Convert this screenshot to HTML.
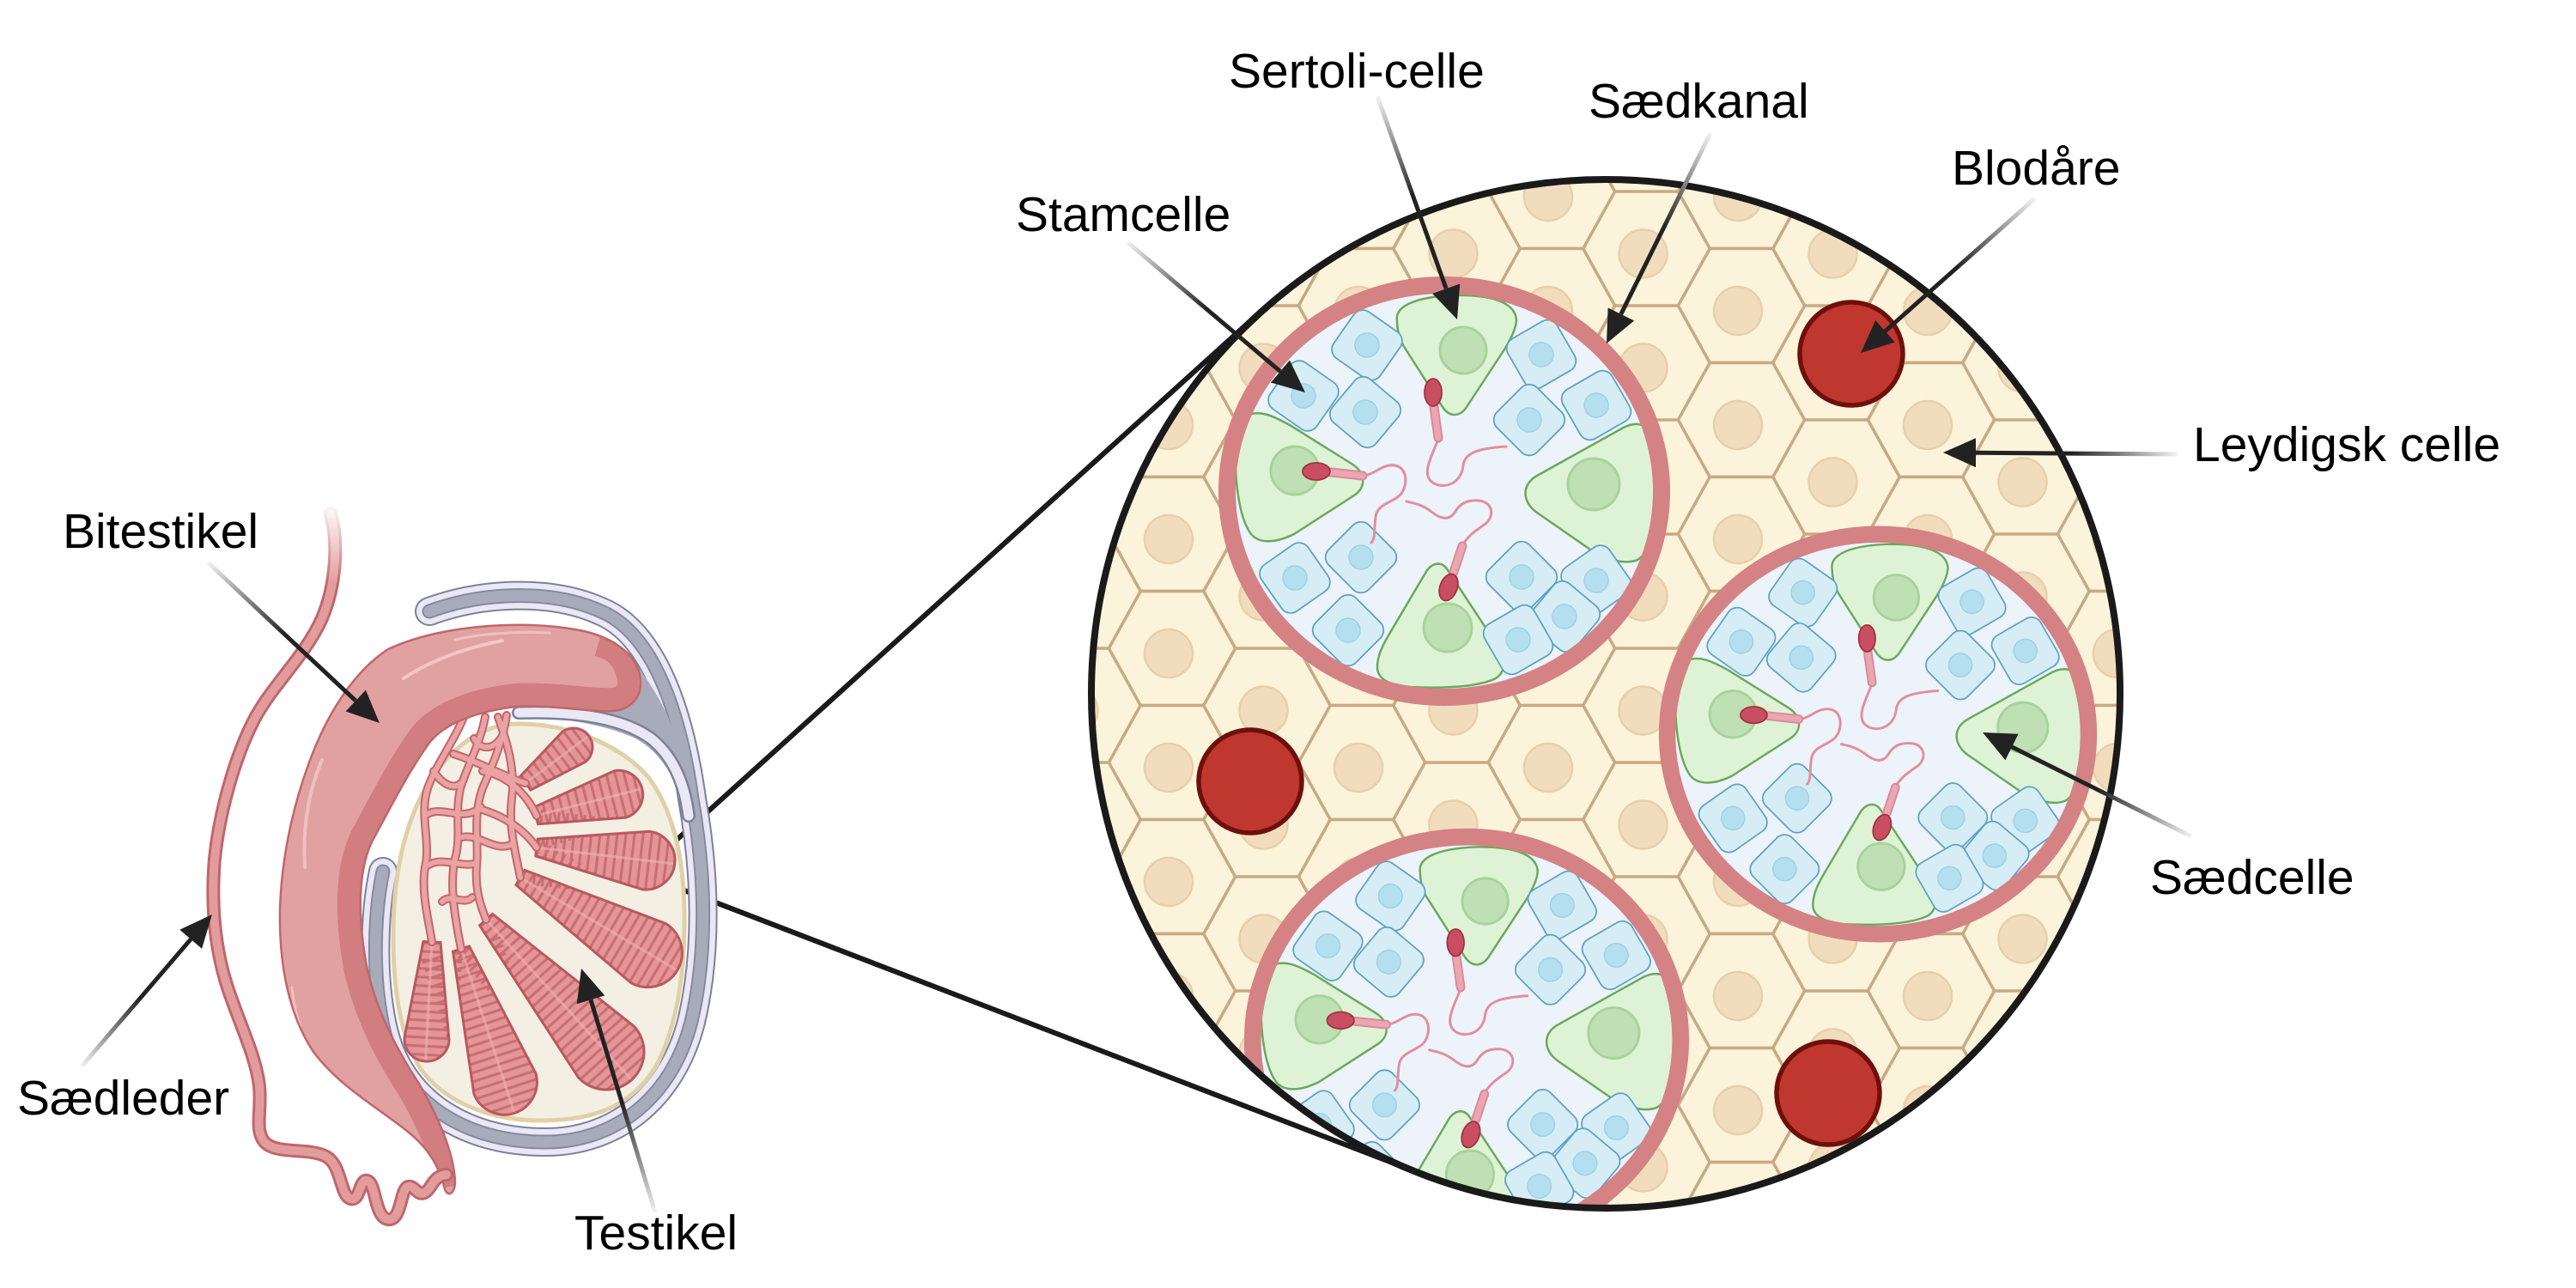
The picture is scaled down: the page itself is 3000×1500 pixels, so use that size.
<!DOCTYPE html>
<html><head><meta charset="utf-8"><style>html,body{margin:0;padding:0;background:#fff}svg{display:block}text{font-family:"Liberation Sans",Arial,sans-serif;font-size:57px;fill:#000}</style></head>
<body>
<svg width="3000" height="1500" viewBox="0 0 3000 1500" xmlns="http://www.w3.org/2000/svg">
<defs>
<pattern id="hexp" patternUnits="userSpaceOnUse" x="1144" y="90" width="221" height="133">
<rect width="221" height="133" fill="#fbf4da"/>
<g fill="#fbf4da" stroke="#c9a985" stroke-width="3.5">
<polygon points="-73.7,0 -36.8,-66.5 36.8,-66.5 73.7,0 36.8,66.5 -36.8,66.5"/>
<polygon points="147.3,0 184.2,-66.5 257.8,-66.5 294.7,0 257.8,66.5 184.2,66.5"/>
<polygon points="-73.7,133 -36.8,66.5 36.8,66.5 73.7,133 36.8,199.5 -36.8,199.5"/>
<polygon points="147.3,133 184.2,66.5 257.8,66.5 294.7,133 257.8,199.5 184.2,199.5"/>
<polygon points="36.8,66.5 73.7,0 147.3,0 184.2,66.5 147.3,133 73.7,133"/>
</g>
<g fill="#f1ddbd" stroke="#e8cfab" stroke-width="2.5">
<circle cx="-4" cy="6" r="28"/><circle cx="217" cy="6" r="28"/><circle cx="-4" cy="139" r="28"/><circle cx="217" cy="139" r="28"/><circle cx="106.5" cy="72.5" r="28"/>
</g>
</pattern>
<clipPath id="bigclip"><circle cx="1870" cy="808" r="599"/></clipPath>
<clipPath id="lumen"><ellipse rx="244" ry="231"/></clipPath>
<g id="bc"><rect x="-33" y="-33" width="66" height="66" rx="13" fill="#d6edf5" stroke="#5ea2c3" stroke-width="1.8"/><circle r="14" fill="#b4dfee" stroke="#9fd1e6" stroke-width="1.5"/></g>
<g id="tub">
<ellipse rx="253" ry="240" fill="#edf3fb"/>
<g clip-path="url(#lumen)">
<g fill="#def3d6" stroke="#6aa85a" stroke-width="2.5">
<path d="M -55,-198 C -58,-215 -35,-226 10,-228 C 55,-229 82,-220 84,-200 C 84,-190 78,-178 70,-165 L 26,-98 C 18,-86 6,-86 -2,-98 L -48,-170 C -53,-180 -55,-190 -55,-198 Z"/>
<path d="M -230,-88 C -215,-95 -200,-88 -180,-77 L -108,-32 C -92,-22 -90,-5 -105,5 L -175,50 C -195,60 -215,62 -225,50 C -240,30 -245,-20 -242,-50 C -240,-75 -238,-84 -230,-88 Z"/>
<path d="M 232,-76 C 243,-70 247,-40 248,-5 C 248,35 242,70 225,80 C 210,86 190,80 170,68 L 108,25 C 90,12 90,-8 108,-18 L 205,-72 C 215,-78 225,-80 232,-76 Z"/>
<path d="M -20,92 C -12,82 -2,82 4,92 L 62,180 C 72,196 72,210 60,218 C 40,228 0,230 -40,228 C -62,226 -78,220 -78,205 C -78,192 -72,180 -65,168 L -20,92 Z"/>
</g>
<g fill="#bfe0b4" stroke="#a6d39a" stroke-width="3">
<circle cx="22" cy="-164" r="27"/><circle cx="-174" cy="-24" r="28"/><circle cx="174" cy="-8" r="30"/><circle cx="4" cy="159" r="28"/>
</g>
<use href="#bc" transform="translate(-90,-170) rotate(35)"/>
<use href="#bc" transform="translate(-164,-111) rotate(35)"/>
<use href="#bc" transform="translate(-92,-92) rotate(40)"/>
<use href="#bc" transform="translate(113,-159) rotate(-30)"/>
<use href="#bc" transform="translate(99,-83) rotate(45)"/>
<use href="#bc" transform="translate(177,-100) rotate(-30)"/>
<use href="#bc" transform="translate(-174,101) rotate(-35)"/>
<use href="#bc" transform="translate(-97,77) rotate(45)"/>
<use href="#bc" transform="translate(-112,162) rotate(45)"/>
<use href="#bc" transform="translate(90,100) rotate(45)"/>
<use href="#bc" transform="translate(177,104) rotate(-35)"/>
<use href="#bc" transform="translate(140,146) rotate(40)"/>
<use href="#bc" transform="translate(86,173) rotate(-30)"/>
</g>
<g fill="none" stroke="#e48d9c" stroke-width="3" stroke-linecap="round">
<path d="M -8,-58 C -15,-40 -28,-18 -12,-9 C 2,-2 20,-10 22,-30 C 24,-45 40,-50 72,-52"/>
<path d="M -93,-18 C -80,-20 -72,-32 -58,-30 C -42,-28 -42,-5 -52,5 C -62,14 -78,15 -80,30 C -82,45 -80,55 -85,60"/>
<path d="M 23,60 C 30,50 38,45 48,38 C 60,28 55,12 40,11 C 25,10 18,15 12,25 C 5,35 -5,32 -15,24 C -25,16 -35,14 -44,12"/>
</g>
<g stroke="#d98a98" stroke-width="11" stroke-linecap="round">
<path d="M -12,-98 L -7,-62"/><path d="M -132,-22 L -95,-18"/><path d="M 11,94 L 21,64"/>
</g>
<g stroke="#eaa7b1" stroke-width="7" stroke-linecap="round">
<path d="M -12,-98 L -7,-62"/><path d="M -132,-22 L -95,-18"/><path d="M 11,94 L 21,64"/>
</g>
<g fill="#c84f62" stroke="#a3303f" stroke-width="1.8">
<ellipse cx="-13" cy="-115" rx="10" ry="16"/>
<ellipse cx="-149" cy="-23" rx="16" ry="10"/>
<ellipse cx="5" cy="112" rx="10" ry="16" transform="rotate(20 5 112)"/>
</g>
<ellipse rx="253" ry="240" fill="none" stroke="#d48284" stroke-width="20"/>
</g>
<clipPath id="lobclip">
<path d="M 606 904 L 654.8 852.4 A 22 22 0 0 1 681.2 887.6 L 618 920 Z"/>
<path d="M 621.5 940.3 L 715.1 897.9 A 28 28 0 0 1 728.9 952.1 L 626.5 959.7 Z"/>
<path d="M 626.2 977.1 L 756 968.2 A 34 34 0 0 1 748 1035.8 L 623.8 996.9 Z"/>
<path d="M 611.1 1013.4 L 775.4 1075.6 A 40 40 0 0 1 734.6 1144.4 L 600.9 1030.6 Z"/>
<path d="M 573.4 1064.3 L 738.6 1195.4 A 44 44 0 0 1 673.4 1254.6 L 558.6 1077.7 Z"/>
<path d="M 546.5 1101.9 L 624.1 1250.3 A 38 38 0 0 1 551.9 1273.7 L 527.5 1108.1 Z"/>
<path d="M 513 1097.5 L 523 1211.4 A 26 26 0 0 1 471 1208.6 L 493 1096.5 Z"/>
</clipPath>
<clipPath id="epiclip"><path d="M 452 756 C 415 780 385 825 365 875 C 345 925 328 990 326 1060 C 325 1120 335 1180 365 1225 C 395 1265 440 1290 475 1318 C 500 1338 512 1360 518 1385 C 522 1395 530 1390 530 1375 C 528 1340 510 1300 488 1262 C 462 1222 440 1180 428 1130 C 416 1070 416 1010 436 975 C 455 940 475 900 500 865 C 520 840 560 828 600 823 C 640 820 690 830 715 828 C 740 825 750 805 745 785 C 738 758 710 742 680 735 C 620 722 520 725 452 756 Z"/></clipPath>
<linearGradient id="g1" gradientUnits="userSpaceOnUse" x1="242" y1="655" x2="332" y2="739.2"><stop offset="0" stop-color="#f2f2f2"/><stop offset="1" stop-color="#222"/></linearGradient>
<linearGradient id="g2" gradientUnits="userSpaceOnUse" x1="95" y1="1242" x2="163.4" y2="1162.4"><stop offset="0" stop-color="#f2f2f2"/><stop offset="1" stop-color="#222"/></linearGradient>
<linearGradient id="g3" gradientUnits="userSpaceOnUse" x1="763" y1="1412" x2="724.3" y2="1284.2"><stop offset="0" stop-color="#f2f2f2"/><stop offset="1" stop-color="#222"/></linearGradient>
<linearGradient id="g4" gradientUnits="userSpaceOnUse" x1="1313" y1="282" x2="1406.2" y2="360.8"><stop offset="0" stop-color="#f2f2f2"/><stop offset="1" stop-color="#222"/></linearGradient>
<linearGradient id="g5" gradientUnits="userSpaceOnUse" x1="1604" y1="112" x2="1645.9" y2="229"><stop offset="0" stop-color="#f2f2f2"/><stop offset="1" stop-color="#222"/></linearGradient>
<linearGradient id="g6" gradientUnits="userSpaceOnUse" x1="1992" y1="155" x2="1937.6" y2="265.3"><stop offset="0" stop-color="#f2f2f2"/><stop offset="1" stop-color="#222"/></linearGradient>
<linearGradient id="g7" gradientUnits="userSpaceOnUse" x1="2370" y1="231" x2="2278.7" y2="312"><stop offset="0" stop-color="#f2f2f2"/><stop offset="1" stop-color="#222"/></linearGradient>
<linearGradient id="g8" gradientUnits="userSpaceOnUse" x1="2536" y1="529" x2="2413.2" y2="528.1"><stop offset="0" stop-color="#f2f2f2"/><stop offset="1" stop-color="#222"/></linearGradient>
<linearGradient id="g9" gradientUnits="userSpaceOnUse" x1="2552" y1="974" x2="2442.7" y2="919.6"><stop offset="0" stop-color="#f2f2f2"/><stop offset="1" stop-color="#222"/></linearGradient>
<linearGradient id="vasfade" x1="0" y1="0" x2="0" y2="1"><stop offset="0" stop-color="#fff" stop-opacity="1"/><stop offset="1" stop-color="#fff" stop-opacity="0"/></linearGradient>
</defs>

<!-- ===== Big magnified circle ===== -->
<circle cx="1870" cy="808" r="599" fill="url(#hexp)"/>
<g clip-path="url(#bigclip)">
<g fill="#c0372f" stroke="#6d100c" stroke-width="5.5">
<circle cx="2156" cy="412" r="60"/><circle cx="1456" cy="910" r="60"/><circle cx="2129" cy="1273" r="60"/>
</g>
<use href="#tub" transform="translate(1682 572)"/>
<use href="#tub" transform="translate(2187 855) scale(0.97)"/>
<use href="#tub" transform="translate(1708 1211) scale(0.985)"/>
</g>
<circle cx="1870" cy="808" r="599" fill="none" stroke="#1a1a1a" stroke-width="8"/>

<!-- callout lines -->
<g stroke="#1a1a1a" stroke-width="6" stroke-linecap="round">
<line x1="745" y1="1017" x2="1468" y2="363"/>
<line x1="745" y1="1017" x2="1655" y2="1367"/>
</g>

<!-- ===== Testis illustration ===== -->
<g fill="none" stroke-linecap="round">
<path d="M 500 712 C 560 690 640 685 700 712 C 755 735 790 815 806 930 C 822 1020 824 1110 805 1190 C 782 1280 715 1330 635 1330 C 550 1330 483 1292 455 1225 C 435 1175 432 1080 446 1015" stroke="#7d8198" stroke-width="34"/>
<path d="M 500 712 C 560 690 640 685 700 712 C 755 735 790 815 806 930 C 822 1020 824 1110 805 1190 C 782 1280 715 1330 635 1330 C 550 1330 483 1292 455 1225 C 435 1175 432 1080 446 1015" stroke="#ebe8f6" stroke-width="30"/>
<path d="M 500 712 C 560 690 640 685 700 712 C 755 735 790 815 806 930 C 822 1020 824 1110 805 1190 C 782 1280 715 1330 635 1330 C 550 1330 483 1292 455 1225 C 435 1175 432 1080 446 1015" stroke="#868aa0" stroke-width="17"/>
<path d="M 500 712 C 560 690 640 685 700 712 C 755 735 790 815 806 930 C 822 1020 824 1110 805 1190 C 782 1280 715 1330 635 1330 C 550 1330 483 1292 455 1225 C 435 1175 432 1080 446 1015" stroke="#a7abba" stroke-width="13"/>
</g>
<path d="M 742 775 C 760 800 788 840 797 900 L 800 950 C 788 905 768 875 740 860 C 700 842 650 836 606 834 L 606 826 C 660 824 725 830 740 815 C 750 803 750 790 742 775 Z" fill="#a7abba"/>
<g fill="none" stroke-linecap="round">
<path d="M 604 830 C 670 828 725 836 758 860 C 783 880 797 910 802 950" stroke="#7d8198" stroke-width="16"/>
<path d="M 604 830 C 670 828 725 836 758 860 C 783 880 797 910 802 950" stroke="#ebe8f6" stroke-width="11"/>
</g>
<!-- testis body -->
<path d="M 604 843 C 660 843 720 865 755 905 C 785 945 796 1000 797 1060 C 798 1130 790 1190 765 1240 C 735 1290 690 1305 630 1305 C 565 1305 515 1280 490 1245 C 465 1205 458 1150 458 1090 C 458 1020 470 960 500 910 C 530 865 565 843 604 843 Z" fill="#f3efe3" stroke="#e0d0a8" stroke-width="5"/>
<!-- lobules -->
<g fill="#e39597">
<path d="M 606 904 L 654.8 852.4 A 22 22 0 0 1 681.2 887.6 L 618 920 Z"/>
<path d="M 621.5 940.3 L 715.1 897.9 A 28 28 0 0 1 728.9 952.1 L 626.5 959.7 Z"/>
<path d="M 626.2 977.1 L 756 968.2 A 34 34 0 0 1 748 1035.8 L 623.8 996.9 Z"/>
<path d="M 611.1 1013.4 L 775.4 1075.6 A 40 40 0 0 1 734.6 1144.4 L 600.9 1030.6 Z"/>
<path d="M 573.4 1064.3 L 738.6 1195.4 A 44 44 0 0 1 673.4 1254.6 L 558.6 1077.7 Z"/>
<path d="M 546.5 1101.9 L 624.1 1250.3 A 38 38 0 0 1 551.9 1273.7 L 527.5 1108.1 Z"/>
<path d="M 513 1097.5 L 523 1211.4 A 26 26 0 0 1 471 1208.6 L 493 1096.5 Z"/>
</g>
<g clip-path="url(#lobclip)" stroke="#c4636a" stroke-dasharray="3 7" opacity="0.8">
<line x1="612" y1="912" x2="685.6" y2="856.8" stroke-width="64"/>
<line x1="624" y1="950" x2="749.1" y2="918.1" stroke-width="76"/>
<line x1="625" y1="987" x2="785.8" y2="1006" stroke-width="88"/>
<line x1="606" y1="1022" x2="789.4" y2="1130.4" stroke-width="100"/>
<line x1="566" y1="1071" x2="735.6" y2="1257.6" stroke-width="108"/>
<line x1="537" y1="1105" x2="599.7" y2="1298.1" stroke-width="96"/>
<line x1="503" y1="1097" x2="495.6" y2="1236" stroke-width="72"/>
</g>
<g clip-path="url(#lobclip)" stroke="#f0b5b5" stroke-width="3" opacity="0.6">
<line x1="612" y1="912" x2="685.6" y2="856.8"/>
<line x1="624" y1="950" x2="749.1" y2="918.1"/>
<line x1="625" y1="987" x2="785.8" y2="1006"/>
<line x1="606" y1="1022" x2="789.4" y2="1130.4"/>
<line x1="566" y1="1071" x2="735.6" y2="1257.6"/>
<line x1="537" y1="1105" x2="599.7" y2="1298.1"/>
<line x1="503" y1="1097" x2="495.6" y2="1236"/>
</g>
<g fill="none" stroke="#b9585f" stroke-width="3">
<path d="M 606 904 L 654.8 852.4 A 22 22 0 0 1 681.2 887.6 L 618 920 Z"/>
<path d="M 621.5 940.3 L 715.1 897.9 A 28 28 0 0 1 728.9 952.1 L 626.5 959.7 Z"/>
<path d="M 626.2 977.1 L 756 968.2 A 34 34 0 0 1 748 1035.8 L 623.8 996.9 Z"/>
<path d="M 611.1 1013.4 L 775.4 1075.6 A 40 40 0 0 1 734.6 1144.4 L 600.9 1030.6 Z"/>
<path d="M 573.4 1064.3 L 738.6 1195.4 A 44 44 0 0 1 673.4 1254.6 L 558.6 1077.7 Z"/>
<path d="M 546.5 1101.9 L 624.1 1250.3 A 38 38 0 0 1 551.9 1273.7 L 527.5 1108.1 Z"/>
<path d="M 513 1097.5 L 523 1211.4 A 26 26 0 0 1 471 1208.6 L 493 1096.5 Z"/>
</g>
<!-- rete network -->
<g fill="none" stroke-linecap="round" stroke-linejoin="round">
<g stroke="#c4656b" stroke-width="10">
<path d="M 540 835 C 528 865 508 890 498 918 C 488 950 502 980 495 1010 C 490 1040 500 1075 503 1097"/>
<path d="M 565 835 C 560 862 548 885 538 912 C 528 942 538 972 530 1000 C 523 1030 530 1070 537 1105"/>
<path d="M 590 833 C 586 862 574 890 562 918 C 550 950 558 985 555 1010 C 553 1040 562 1060 566 1071"/>
<path d="M 580 835 C 592 868 600 898 596 930 C 592 962 600 992 606 1022"/>
<path d="M 562 898 C 588 902 612 922 625 950"/>
<path d="M 558 942 C 588 950 612 968 625 987"/>
<path d="M 528 878 C 560 888 590 906 612 912"/>
<path d="M 498 948 C 515 938 540 958 560 940"/>
<path d="M 495 1010 C 512 995 538 1012 555 1005"/>
<path d="M 505 898 C 516 915 532 922 540 908"/>
<path d="M 538 975 C 558 970 578 995 598 982"/>
<path d="M 552 860 C 560 875 575 872 583 860"/>
<path d="M 515 1050 C 525 1040 540 1055 550 1045"/>
</g>
<g stroke="#e9a3a4" stroke-width="6">
<path d="M 540 835 C 528 865 508 890 498 918 C 488 950 502 980 495 1010 C 490 1040 500 1075 503 1097"/>
<path d="M 565 835 C 560 862 548 885 538 912 C 528 942 538 972 530 1000 C 523 1030 530 1070 537 1105"/>
<path d="M 590 833 C 586 862 574 890 562 918 C 550 950 558 985 555 1010 C 553 1040 562 1060 566 1071"/>
<path d="M 580 835 C 592 868 600 898 596 930 C 592 962 600 992 606 1022"/>
<path d="M 562 898 C 588 902 612 922 625 950"/>
<path d="M 558 942 C 588 950 612 968 625 987"/>
<path d="M 528 878 C 560 888 590 906 612 912"/>
<path d="M 498 948 C 515 938 540 958 560 940"/>
<path d="M 495 1010 C 512 995 538 1012 555 1005"/>
<path d="M 505 898 C 516 915 532 922 540 908"/>
<path d="M 538 975 C 558 970 578 995 598 982"/>
<path d="M 552 860 C 560 875 575 872 583 860"/>
<path d="M 515 1050 C 525 1040 540 1055 550 1045"/>
</g>
</g>
<!-- epididymis -->
<path d="M 452 756 C 415 780 385 825 365 875 C 345 925 328 990 326 1060 C 325 1120 335 1180 365 1225 C 395 1265 440 1290 475 1318 C 500 1338 512 1360 518 1385 C 522 1395 530 1390 530 1375 C 528 1340 510 1300 488 1262 C 462 1222 440 1180 428 1130 C 416 1070 416 1010 436 975 C 455 940 475 900 500 865 C 520 840 560 828 600 823 C 640 820 690 830 715 828 C 740 825 750 805 745 785 C 738 758 710 742 680 735 C 620 722 520 725 452 756 Z" fill="#e1a1a1"/>
<g clip-path="url(#epiclip)" fill="none">
<path d="M 535 1380 C 528 1340 510 1300 488 1262 C 462 1222 440 1180 428 1130 C 416 1070 416 1010 436 975 C 455 940 475 900 500 865 C 520 840 560 828 600 823 C 640 820 690 830 715 828 C 740 825 750 805 745 785 C 738 758 725 745 700 738" stroke="#d27d80" stroke-width="54"/>
<path d="M 470 790 C 500 770 540 755 585 746" stroke="#f3c6c6" stroke-width="4" stroke-linecap="round"/>
<path d="M 355 1010 C 352 960 360 920 375 885" stroke="#f0c0c0" stroke-width="4" stroke-linecap="round"/>
<path d="M 530 745 C 560 738 600 735 640 737" stroke="#f0c0c0" stroke-width="3" stroke-linecap="round"/>
<path d="M 340 1150 C 342 1170 346 1185 350 1195" stroke="#f0c0c0" stroke-width="3" stroke-linecap="round"/>
</g>
<path d="M 452 756 C 415 780 385 825 365 875 C 345 925 328 990 326 1060 C 325 1120 335 1180 365 1225 C 395 1265 440 1290 475 1318 C 500 1338 512 1360 518 1385 C 522 1395 530 1390 530 1375 C 528 1340 510 1300 488 1262 C 462 1222 440 1180 428 1130 C 416 1070 416 1010 436 975 C 455 940 475 900 500 865 C 520 840 560 828 600 823 C 640 820 690 830 715 828 C 740 825 750 805 745 785 C 738 758 710 742 680 735 C 620 722 520 725 452 756 Z" fill="none" stroke="#c0666b" stroke-width="2.5"/>
<!-- vas deferens -->
<g fill="none" stroke-linecap="round" stroke-linejoin="round">
<path d="M 385 598 C 394 630 392 680 375 720 C 355 765 315 800 295 840 C 272 885 255 950 250 1000 C 245 1060 252 1110 265 1150 C 280 1195 298 1230 302 1265 C 305 1295 296 1315 308 1330 C 322 1345 360 1336 380 1347 C 398 1357 396 1392 408 1396 C 420 1400 418 1372 428 1375 C 438 1378 436 1418 452 1420 C 468 1422 466 1385 475 1382 C 484 1380 486 1395 496 1388 C 504 1382 504 1370 520 1368" stroke="#c0666c" stroke-width="16"/>
<path d="M 385 598 C 394 630 392 680 375 720 C 355 765 315 800 295 840 C 272 885 255 950 250 1000 C 245 1060 252 1110 265 1150 C 280 1195 298 1230 302 1265 C 305 1295 296 1315 308 1330 C 322 1345 360 1336 380 1347 C 398 1357 396 1392 408 1396 C 420 1400 418 1372 428 1375 C 438 1378 436 1418 452 1420 C 468 1422 466 1385 475 1382 C 484 1380 486 1395 496 1388 C 504 1382 504 1370 520 1368" stroke="#e29c9c" stroke-width="10"/>
</g>
<rect x="355" y="585" width="70" height="95" fill="url(#vasfade)"/>

<!-- ===== Arrows ===== -->
<g stroke-width="5" fill="none">
<line x1="242" y1="655" x2="414.2" y2="816.1" stroke="url(#g1)"/>
<line x1="95" y1="1242" x2="222.2" y2="1093.8" stroke="url(#g2)"/>
<line x1="763" y1="1412" x2="688" y2="1164.4" stroke="url(#g3)"/>
<line x1="1313" y1="282" x2="1491" y2="432.5" stroke="url(#g4)"/>
<line x1="1604" y1="112" x2="1684.2" y2="336.2" stroke="url(#g5)"/>
<line x1="1992" y1="155" x2="1887.8" y2="365.9" stroke="url(#g6)"/>
<line x1="2370" y1="231" x2="2195.4" y2="385.8" stroke="url(#g7)"/>
<line x1="2536" y1="529" x2="2301" y2="527.3" stroke="url(#g8)"/>
<line x1="2552" y1="974" x2="2343" y2="869.9" stroke="url(#g9)"/>
</g>
<g fill="#222">
<polygon points="442,842 402.6,828.5 425.9,803.6"/>
<polygon points="247,1065 235.1,1104.9 209.3,1082.8"/>
<polygon points="677,1128 704.3,1159.4 671.7,1169.3"/>
<polygon points="1520,457 1480,445.5 1502,419.5"/>
<polygon points="1697,372 1668.2,342 1700.2,330.5"/>
<polygon points="1871,400 1872.6,358.4 1903.1,373.5"/>
<polygon points="2167,411 2184.2,373.1 2206.7,398.5"/>
<polygon points="2263,527 2301,510.3 2301,544.3"/>
<polygon points="2309,853 2350.6,854.7 2335.4,885.2"/>
</g>

<!-- ===== Labels ===== -->
<text x="73" y="638">Bitestikel</text>
<text x="20" y="1298">Sædleder</text>
<text x="669" y="1455">Testikel</text>
<text x="1431" y="102">Sertoli-celle</text>
<text x="1850" y="137">Sædkanal</text>
<text x="1183" y="269">Stamcelle</text>
<text x="2273" y="215">Blodåre</text>
<text x="2554" y="537">Leydigsk celle</text>
<text x="2504" y="1041">Sædcelle</text>
</svg>
</body></html>
